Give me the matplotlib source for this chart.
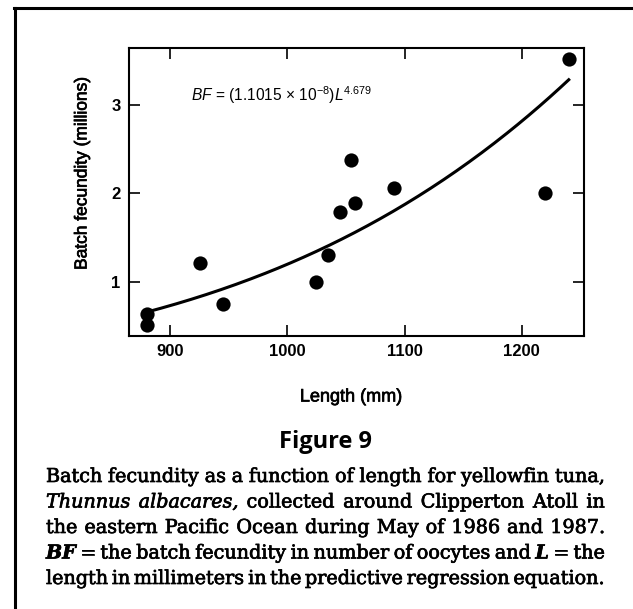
import numpy as np
import matplotlib
matplotlib.use("Agg")
import matplotlib.pyplot as plt
import matplotlib.patheffects as pe
from matplotlib.lines import Line2D

# data
length_mm = [880.5, 880.5, 925.5, 945, 1024.5, 1035, 1045, 1054.5, 1057.5, 1091, 1220, 1240.5]
fecundity_m = [0.64, 0.51, 1.21, 0.75, 1.00, 1.30, 1.79, 2.38, 1.89, 2.06, 2.00, 3.52]
curve_range = [880, 1240]
coef_a, coef_b = 1.1015e-8, 4.679   # BF = a * L^b (printed equation)
xticks = [900, 1000, 1100, 1200]
yticks = [1, 2, 3]

caption = [
    [("Batch", "n"), ("fecundity", "n"), ("as", "n"), ("a", "n"), ("function", "n"), ("of", "n"),
     ("length", "n"), ("for", "n"), ("yellowfin", "n"), ("tuna,", "n")],
    [("Thunnus", "i"), ("albacares,", "i"), ("collected", "n"), ("around", "n"), ("Clipperton", "n"),
     ("Atoll", "n"), ("in", "n")],
    [("the", "n"), ("eastern", "n"), ("Pacific", "n"), ("Ocean", "n"), ("during", "n"), ("May", "n"),
     ("of", "n"), ("1986", "n"), ("and", "n"), ("1987.", "n")],
    [("BF", "bi"), ("=", "n"), ("the", "n"), ("batch", "n"), ("fecundity", "n"), ("in", "n"),
     ("number", "n"), ("of", "n"), ("oocytes", "n"), ("and", "n"), ("L", "bi"), ("=", "n"), ("the", "n")],
    [("length", "n"), ("in", "n"), ("millimeters", "n"), ("in", "n"), ("the", "n"), ("predictive", "n"),
     ("regression", "n"), ("equation.", "n")],
]

plt.rcParams["font.family"] = "Liberation Sans"
plt.rcParams["mathtext.fontset"] = "custom"
plt.rcParams["mathtext.rm"] = "Liberation Sans"
plt.rcParams["mathtext.it"] = "Liberation Sans:italic"

heavy = [pe.withStroke(linewidth=0.5, foreground="black")]

W, H = 633, 609
fig = plt.figure(figsize=(W / 100, H / 100), dpi=100)
ax = fig.add_axes([129 / W, 1 - 336 / H, (584 - 129) / W, (336 - 48) / H])

ax.scatter(length_mm, fecundity_m, s=105, color="black", zorder=3, linewidths=0)
xs = np.linspace(curve_range[0], curve_range[1], 200)
ax.plot(xs, coef_a * xs ** coef_b / 1e6, color="black", lw=2.2)

ax.set_xlim(865, 1253)
ax.set_ylim(0.39, 3.64)
ax.set_xticks(xticks)
ax.set_yticks(yticks)
ax.tick_params(direction="in", length=8, width=1.2, top=True, right=True,
               labelsize=12, pad=6)
for lab in ax.get_xticklabels() + ax.get_yticklabels():
    lab.set_fontweight("bold")
for s in ax.spines.values():
    s.set_linewidth(1.5)

ax.set_xlabel("Length (mm)", fontsize=13, path_effects=heavy)
ax.xaxis.set_label_coords((351 - 129) / 455, -(397 - 336) / 288)
ax.xaxis.label.set_va("center")
ax.set_ylabel("Batch fecundity (millions)", fontsize=12.5, path_effects=heavy)
ax.yaxis.set_label_coords((82 - 129) / 455, (336 - 173) / 288)
ax.yaxis.label.set_va("center")

ax.text(918, 3.045, r"$\mathit{BF}$ = (1.1015 × 10$^{-8}$)$\mathit{L}^{4.679}$", fontsize=11.2)

# page frame (left and top rules)
fig.add_artist(Line2D([15 / W, 15 / W], [0, 1 - 8 / H], color="black", lw=2.2, transform=fig.transFigure))
fig.add_artist(Line2D([14 / W, 1], [1 - 8 / H, 1 - 8 / H], color="black", lw=2.2, transform=fig.transFigure))

fig.text(326 / W, 1 - 442 / H, "Figure 9", fontsize=17, fontweight="bold",
         family="Open Sans", ha="center", va="center")

# justified caption
renderer = fig.canvas.get_renderer()
x0, x1 = 46, 605
styles = {"n": dict(style="normal", weight="normal"),
          "i": dict(style="italic", weight="normal"),
          "bi": dict(style="italic", weight="bold")}
baselines = [482, 507.5, 533, 558.5, 584]
for line, yb in zip(caption, baselines):
    texts = [fig.text(0, 1 - yb / H, w, family="DejaVu Serif", fontsize=13.8,
                      va="baseline", ha="left", path_effects=heavy, **styles[st])
             for w, st in line]
    widths = [t.get_window_extent(renderer).width for t in texts]
    gap = (x1 - x0 - sum(widths)) / (len(texts) - 1)
    x = x0
    for t, w in zip(texts, widths):
        t.set_x(x / W)
        x += w + gap

fig.savefig("out.png", dpi=100, facecolor="white")
